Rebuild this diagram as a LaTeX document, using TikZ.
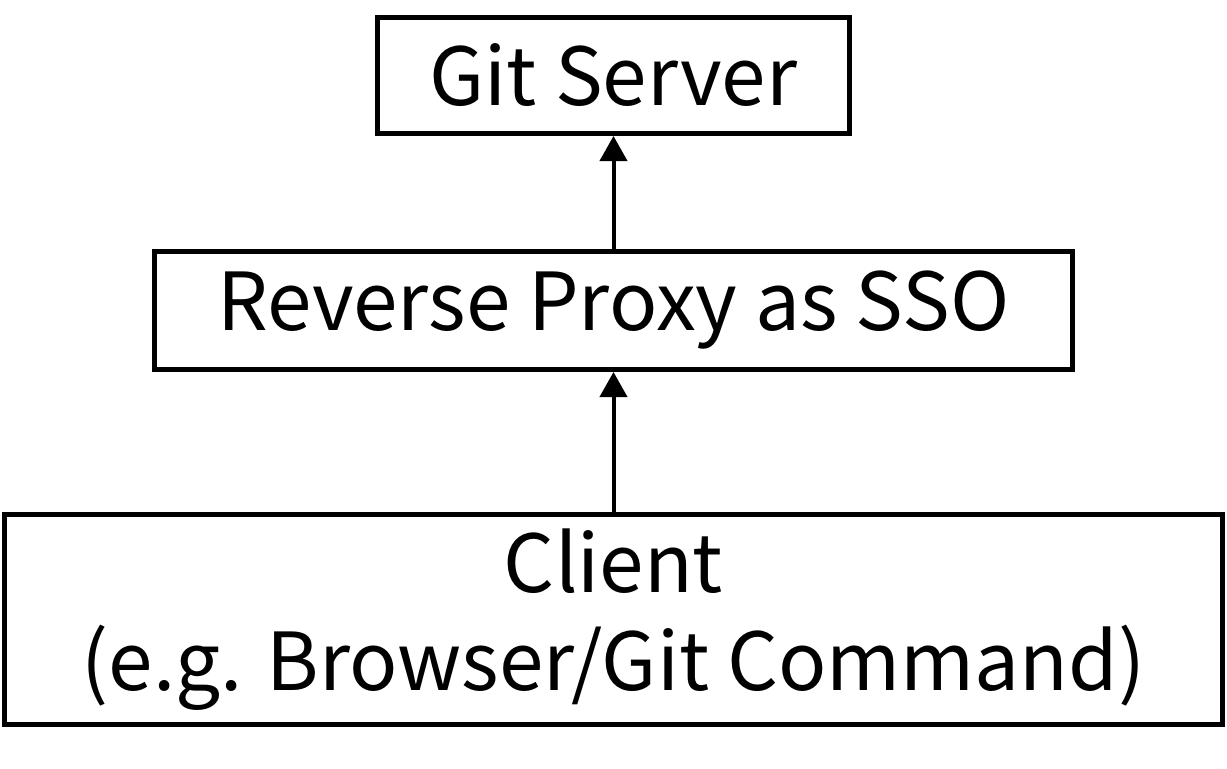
\documentclass[tikz,border=0pt]{standalone}
\usepackage{fontspec}
\setmainfont{Noto Sans CJK JP}
\usetikzlibrary{arrows.meta}

\tikzset{
  box/.style = {draw, line width = 2.5pt, inner sep = 0pt, align = center,
                font = \fontsize{40}{49}\selectfont},
  link/.style = {line width = 2pt, -{Triangle[width = 13.5pt, length = 12.5pt]}}
}

\begin{document}
\begin{tikzpicture}[x = 0.5pt, y = -0.5pt]
        \useasboundingbox (0, 0) rectangle (1227, 768);

        \node [box, minimum width = 236pt, minimum height = 58pt] (git) at (613.5, 75.5) {Git Server};
        \node [box, minimum width = 459pt, minimum height = 59pt] (proxy) at (613.5, 310.5) {Reverse Proxy as SSO};
        \node [box, minimum width = 609pt, minimum height = 105pt] (client) at (613.5, 619.5) {Client\\(e.g. Browser/Git Command)};

        \draw [link] (proxy) -- (git);
        \draw [link] (client) -- (proxy);
      \end{tikzpicture}
\end{document}
